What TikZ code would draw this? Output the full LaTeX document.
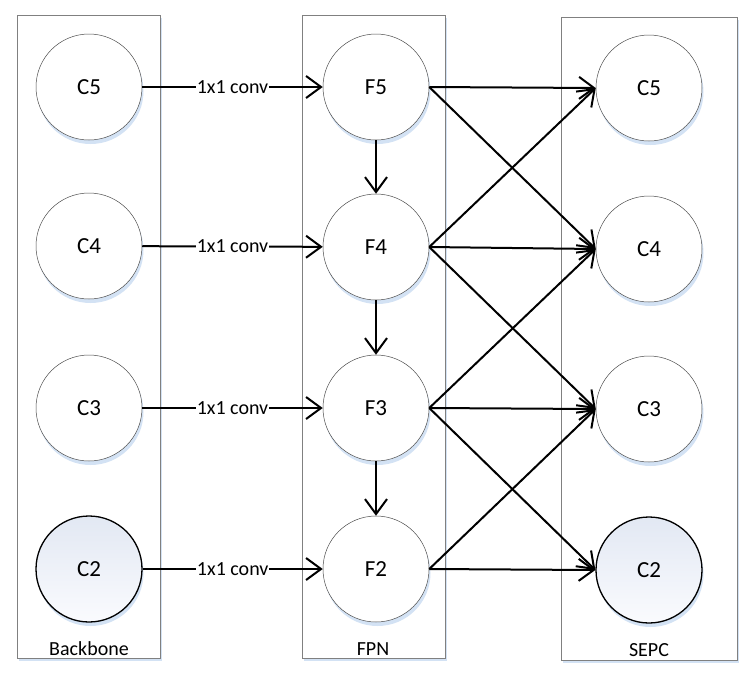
\documentclass[tikz,border=0pt]{standalone}
\usepackage{fontspec}
\setmainfont{Carlito}
\usetikzlibrary{arrows.meta,shadows}
\definecolor{shadowblue}{HTML}{D3E2F4}
\definecolor{boxgrey}{HTML}{808080}
\definecolor{cgtop}{HTML}{E2E8F3}
\definecolor{cgbot}{HTML}{FAFBFE}
\begin{document}
\begin{tikzpicture}[x=1pt,y=-1pt,
  panel/.style={draw=boxgrey,line width=0.8pt,fill=white,
    drop shadow={shadow xshift=2pt,shadow yshift=-3pt,fill=shadowblue,opacity=1}},
  feat/.style={circle,draw=black!70,line width=0.5pt,fill=white,minimum size=106pt,inner sep=0pt,
    font=\fontsize{23}{26}\selectfont,
    drop shadow={shadow xshift=1.5pt,shadow yshift=-4pt,fill=shadowblue,opacity=1}},
  low/.style={feat,draw=black,line width=1.3pt,top color=cgtop,bottom color=cgbot},
  conn/.style={line width=2pt,-{Straight Barb[length=15pt,width=22pt,line width=2pt]}},
  convlbl/.style={fill=white,inner sep=1pt,font=\fontsize{20}{22}\selectfont},
  paneltitle/.style={anchor=base,font=\fontsize{20}{22}\selectfont}]
\useasboundingbox (0,0) rectangle (755,678);
% panels
\draw[panel] (17,15) rectangle (160,658);
\draw[panel] (302,15) rectangle (445,658);
\draw[panel] (561,17) rectangle (737,660);
\node[paneltitle] (tb) at (89,655) {Backbone};
\node[paneltitle] (tf) at (373,655) {FPN};
\node[paneltitle] (ts) at (649,656) {SEPC};
% backbone
\node[feat] (C5) at (89,87) {C5};
\node[feat] (C4) at (89,246) {C4};
\node[feat] (C3) at (89,408) {C3};
\node[low]  (C2) at (89,569) {C2};
% FPN
\node[feat] (F5) at (376,87) {F5};
\node[feat] (F4) at (376,247) {F4};
\node[feat] (F3) at (376,408) {F3};
\node[feat] (F2) at (376,569) {F2};
% SEPC
\node[feat] (S5) at (649,88) {C5};
\node[feat] (S4) at (649,249) {C4};
\node[feat] (S3) at (649,409) {C3};
\node[low]  (S2) at (649,570) {C2};
% lateral
\foreach \i in {5,4,3,2}{
  \draw[conn] (C\i) -- node[convlbl]{1x1 conv} (F\i);
}
% top-down
\draw[conn] (F5) -- (F4);
\draw[conn] (F4) -- (F3);
\draw[conn] (F3) -- (F2);
% SEPC connections
\draw[conn] (F5.east) -- (S5.west);
\draw[conn] (F5.east) -- (S4.west);
\draw[conn] (F4.east) -- (S5.west);
\draw[conn] (F4.east) -- (S4.west);
\draw[conn] (F4.east) -- (S3.west);
\draw[conn] (F3.east) -- (S4.west);
\draw[conn] (F3.east) -- (S3.west);
\draw[conn] (F3.east) -- (S2.west);
\draw[conn] (F2.east) -- (S3.west);
\draw[conn] (F2.east) -- (S2.west);
\end{tikzpicture}
\end{document}
